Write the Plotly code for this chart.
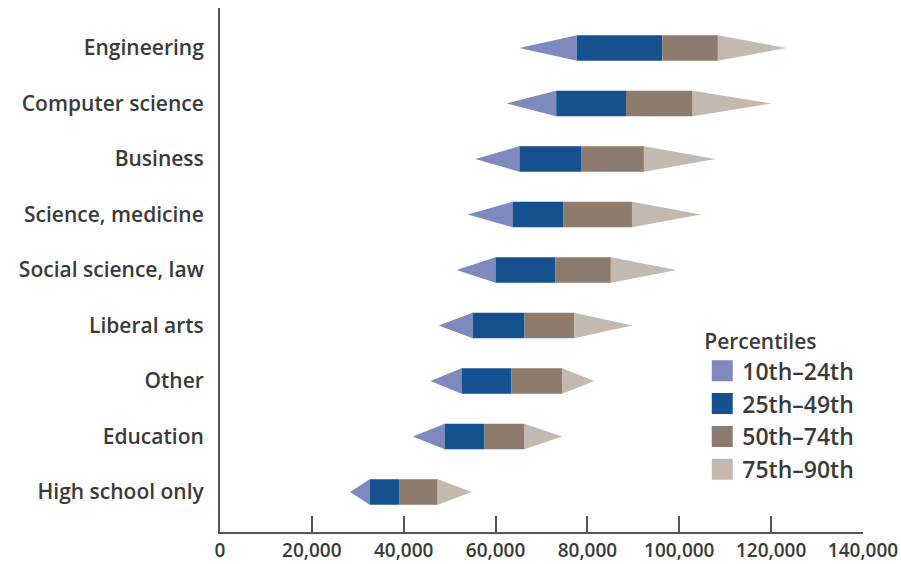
import plotly.graph_objects as go

categories = ["High school only", "Education", "Other", "Liberal arts",
              "Social science, law", "Science, medicine", "Business",
              "Computer science", "Engineering"]
p10 = [28300, 42000, 45800, 47600, 51500, 53900, 55600, 62400, 65200]
p25 = [32600, 48900, 52600, 55000, 60000, 63700, 65200, 73200, 77700]
p50 = [39100, 57600, 63400, 66300, 73000, 74700, 78600, 88400, 96300]
p75 = [47400, 66300, 74500, 77100, 85100, 89700, 92300, 102900, 108400]
p90 = [54800, 74500, 81500, 89700, 99400, 104700, 107900, 120100, 123300]

seg_names = ["10th\u201324th", "25th\u201349th", "50th\u201374th", "75th\u201390th"]
seg_colors = ["#7F89BD", "#15508F", "#8D7C6D", "#C3B9AE"]
x_ticks = [0, 20000, 40000, 60000, 80000, 100000, 120000, 140000]

H = 0.23
FONT = "Open Sans"
TXT = "#3a3a3a"

fig = go.Figure()

def poly(kind):
    xs, ys = [], []
    for i in range(len(categories)):
        if kind == 0:
            px = [p10[i], p25[i], p25[i], p10[i]]
            py = [i, i + H, i - H, i]
        elif kind == 1:
            px = [p25[i], p50[i], p50[i], p25[i], p25[i]]
            py = [i - H, i - H, i + H, i + H, i - H]
        elif kind == 2:
            px = [p50[i], p75[i], p75[i], p50[i], p50[i]]
            py = [i - H, i - H, i + H, i + H, i - H]
        else:
            px = [p75[i], p90[i], p75[i], p75[i]]
            py = [i + H, i, i - H, i + H]
        xs += px + [None]
        ys += py + [None]
    return xs, ys

for k in range(4):
    xs, ys = poly(k)
    fig.add_trace(go.Scatter(x=xs, y=ys, mode="lines", fill="toself",
                             fillcolor=seg_colors[k], line=dict(width=0, color=seg_colors[k]),
                             showlegend=False, hoverinfo="skip"))
for k in range(4):
    fig.add_trace(go.Scatter(x=[None], y=[None], mode="markers", name=seg_names[k],
                             marker=dict(symbol="square", size=16, color=seg_colors[k],
                                         line=dict(width=5, color=seg_colors[k]))))

fig.update_layout(
    width=901, height=564,
    margin=dict(l=219.5, r=38, t=8, b=32),
    paper_bgcolor="white", plot_bgcolor="white",
    font=dict(family=FONT, color=TXT),
    legend=dict(title=dict(text="Percentiles", font=dict(size=21, color=TXT, weight=600)),
                x=0.75, y=0.401, xanchor="left", yanchor="top",
                font=dict(size=23, color=TXT, weight=600), bgcolor="rgba(0,0,0,0)",
                tracegroupgap=0, itemwidth=30),
)
fig.update_xaxes(range=[0, 140000], tickvals=x_ticks,
                 ticktext=[f"{v:,}" for v in x_ticks],
                 ticks="inside", ticklen=16, tickwidth=2, tickcolor="#555555",
                 showline=True, linecolor="#555555", linewidth=2,
                 showgrid=False, zeroline=False, automargin=False,
                 tickfont=dict(size=19, color=TXT, weight=600))
fig.update_yaxes(range=[-0.72, 8.72], tickvals=list(range(len(categories))),
                 ticktext=categories, ticks="", showline=True,
                 linecolor="#555555", linewidth=2, showgrid=False, zeroline=False,
                 ticklabelstandoff=10, automargin=False,
                 tickfont=dict(size=21, color=TXT, weight=600))

fig.write_html("out.html", config={"displayModeBar": False},
               post_script="document.body.style.margin='0';document.body.style.padding='0';")
